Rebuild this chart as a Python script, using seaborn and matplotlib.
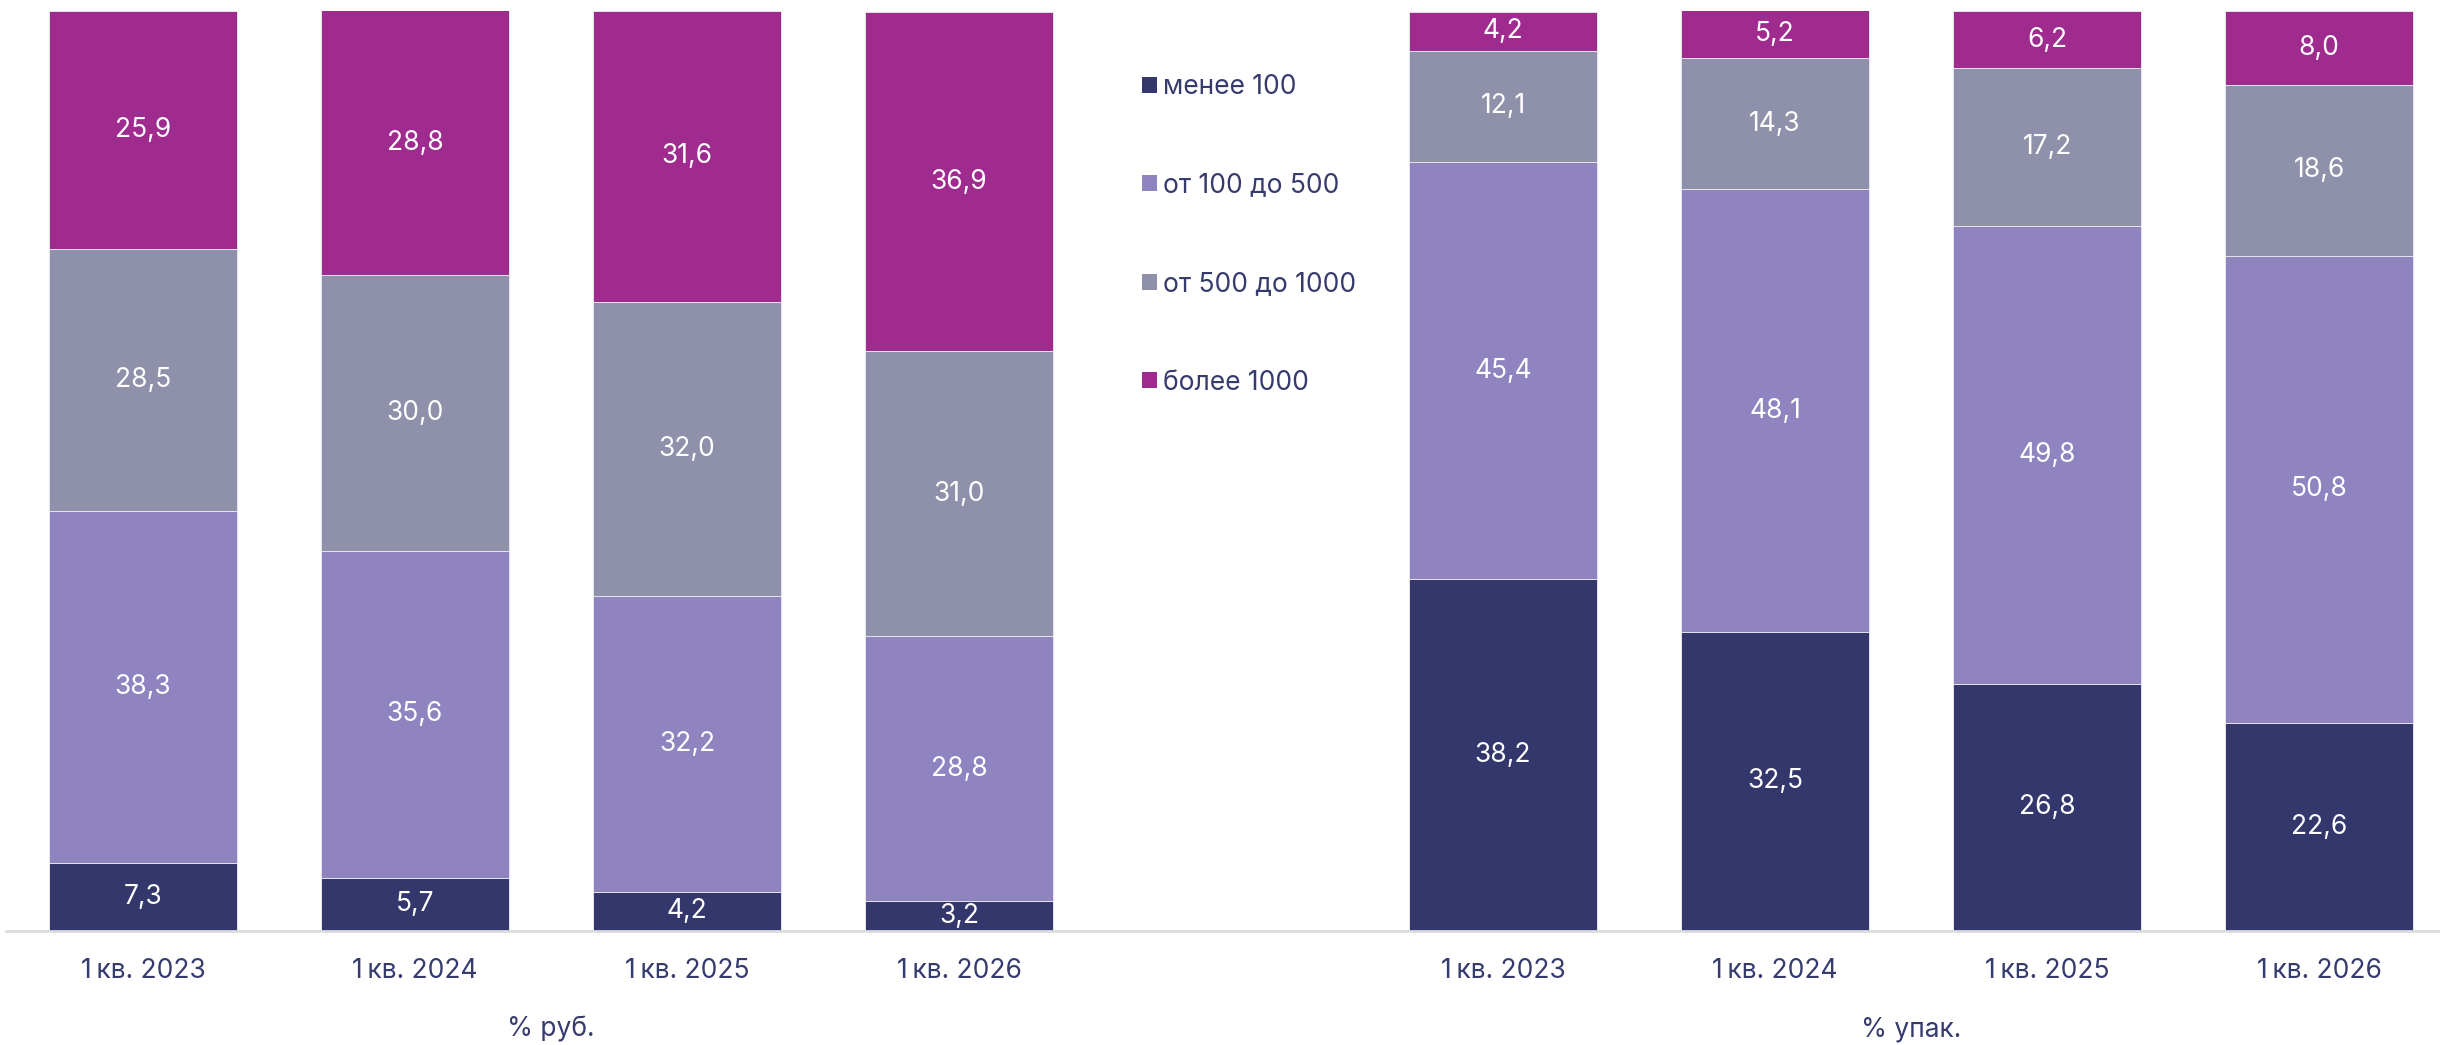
import numpy as np
import pandas as pd
import seaborn as sns
import matplotlib
matplotlib.use("Agg")
import matplotlib.pyplot as plt
from matplotlib.patches import Patch
from matplotlib.transforms import blended_transform_factory

# ---- data ----
periods = ["1\u2009кв. 2023", "1\u2009кв. 2024", "1\u2009кв. 2025", "1\u2009кв. 2026"]
series_names = ["менее 100", "от 100 до 500", "от 500 до 1000", "более 1000"]
group_titles = ["% руб.", "% упак."]

rub_lt100 = [7.3, 5.7, 4.2, 3.2]
rub_100_500 = [38.3, 35.6, 32.2, 28.8]
rub_500_1000 = [28.5, 30.0, 32.0, 31.0]
rub_gt1000 = [25.9, 28.8, 31.6, 36.9]

pack_lt100 = [38.2, 32.5, 26.8, 22.6]
pack_100_500 = [45.4, 48.1, 49.8, 50.8]
pack_500_1000 = [12.1, 14.3, 17.2, 18.6]
pack_gt1000 = [4.2, 5.2, 6.2, 8.0]

colors = ["#33376b", "#8f84bf", "#8f90a9", "#9f2b8f"]
text_color = "#363b6e"

sns.set_theme(style="white")
plt.rcParams["font.family"] = ["Inter", "DejaVu Sans"]

# positions: 4 bars, one empty slot, 4 bars
pos = np.array([0, 1, 2, 3, 5, 6, 7, 8], dtype=float)
series = [
    rub_lt100 + pack_lt100,
    rub_100_500 + pack_100_500,
    rub_500_1000 + pack_500_1000,
    rub_gt1000 + pack_gt1000,
]

W, H = 2440, 1045
fig = plt.figure(figsize=(W / 100, H / 100), dpi=100)
base_px = 930.5
top_px = 11
ax = fig.add_axes([0, 1 - base_px / H, 1, (base_px - top_px) / H])

bottom = np.zeros(len(pos))
for name, vals, col in zip(series_names, series, colors):
    vals = np.array(vals)
    df = pd.DataFrame({"x": pos, "y": vals})
    sns.barplot(data=df, x="x", y="y", native_scale=True, color=col,
                saturation=1, width=0.69, bottom=bottom, errorbar=None,
                edgecolor="#e4e4ee", linewidth=0.7, ax=ax)
    cont = ax.containers[-1]
    labels = [f"{v:.1f}".replace(".", ",") for v in vals]
    ax.bar_label(cont, labels=labels, label_type="center", color="white",
                 fontsize=19)
    bottom = bottom + vals

x0 = -143 / 272
x1 = (W - 143) / 272
ax.set_xlim(x0, x1)
ax.set_ylim(0, 100)
ax.set_xticks(pos)
ax.set_xticklabels(periods + periods, fontsize=19, color=text_color)
ax.tick_params(axis="x", length=0, pad=19.5)
ax.set_yticks([])
ax.set_xlabel("")
ax.set_ylabel("")
for s in ax.spines.values():
    s.set_visible(False)
ax.axhline(0, xmin=6 / W, xmax=1, color="#dcdcdc", lw=2, clip_on=False, zorder=5)

# group titles
tr = blended_transform_factory(ax.transData, fig.transFigure)
for gx, title in zip([1.5, 6.5], group_titles):
    ax.text(gx, 1 - 1037 / H, title, transform=tr, ha="center", va="baseline",
            fontsize=19, color=text_color)

# legend
handles = [Patch(facecolor=c, edgecolor="none") for c in colors]
leg = ax.legend(handles, series_names, loc="upper left",
                bbox_to_anchor=(1142 / W, 1 - 74 / H), bbox_transform=fig.transFigure,
                frameon=False, fontsize=19, labelcolor=text_color,
                handlelength=0.55, handleheight=0.55, handletextpad=0.25,
                labelspacing=2.75, borderpad=0, borderaxespad=0)

fig.savefig("out.png", dpi=100)
